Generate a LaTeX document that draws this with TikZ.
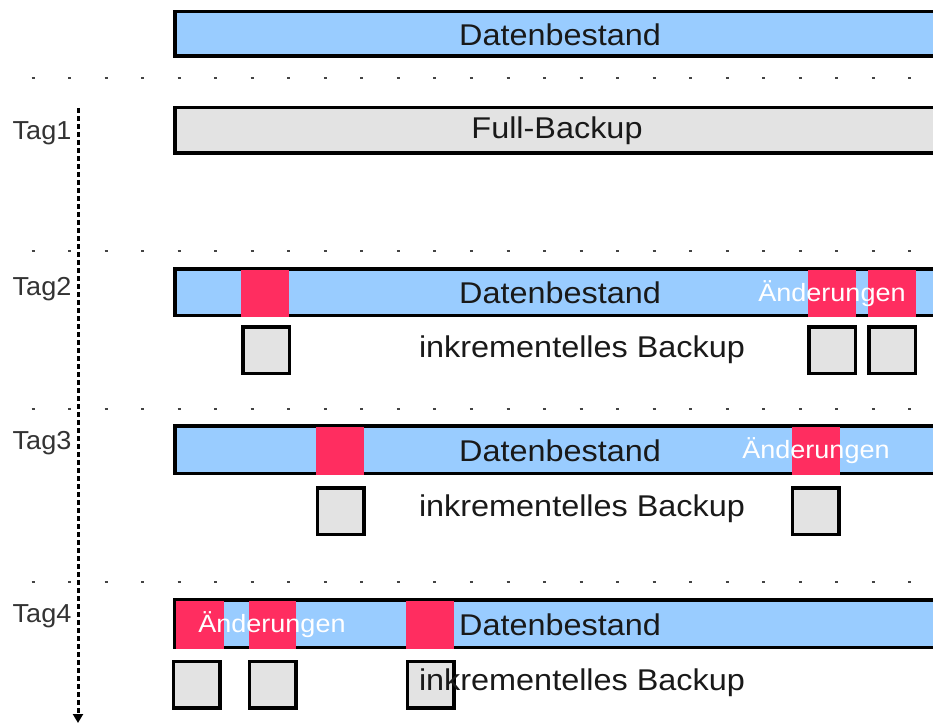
\documentclass[tikz,border=0pt]{standalone}
\usepackage{fontspec}
\setmainfont{Liberation Sans}
\newfontfamily\widefont[FakeStretch=1.08]{Liberation Sans}
\newfontfamily\tagfont[FakeStretch=1.04]{Liberation Sans}
\usetikzlibrary{arrows.meta}
\definecolor{dbblue}{HTML}{99CCFF}
\definecolor{chred}{HTML}{FF2D60}
\definecolor{bkgray}{HTML}{E3E3E3}
\definecolor{lblgray}{HTML}{333333}
\definecolor{dotgray}{HTML}{444444}
\tikzset{
  bar/.style={draw=black, line width=3.5pt, anchor=north west, inner sep=0pt, outer sep=0pt, minimum width=800pt},
  chg/.style={fill=chred, draw=none, anchor=north west, inner sep=0pt, outer sep=0pt},
  sq/.style={draw=black, line width=3.5pt, fill=bkgray, minimum size=46.5pt, inner sep=0pt},
  big/.style={font=\widefont\fontsize{30}{32}\selectfont, text=black!90, inner sep=0pt},
  chtext/.style={font=\widefont\fontsize{25}{27}\selectfont, text=white, inner sep=0pt},
  taglbl/.style={font=\tagfont\fontsize{26}{28}\selectfont, text=lblgray, inner sep=0pt},
  dotline/.style={draw=dotgray, line width=2pt, dash pattern=on 3pt off 33.54pt},
}
\begin{document}
\begin{tikzpicture}[x=1pt, y=-1pt]
\useasboundingbox (0,0) rectangle (933,727);
\clip (0,0) rectangle (933,727);

% dotted separators
\coordinate (d1a) at (31.5,78); \coordinate (d1b) at (925,78);
\coordinate (d2a) at (31.5,250.5); \coordinate (d2b) at (925,250.5);
\coordinate (d3a) at (31.5,409); \coordinate (d3b) at (925,409);
\coordinate (d4a) at (31.5,582); \coordinate (d4b) at (925,582);
\draw[dotline] (d1a) -- (d1b);
\draw[dotline] (d2a) -- (d2b);
\draw[dotline] (d3a) -- (d3b);
\draw[dotline] (d4a) -- (d4b);

% time axis
\coordinate (ax0) at (78,108);
\coordinate (ax1) at (78,723);
\draw[line width=3pt, dash pattern=on 5pt off 3pt, -{Triangle[width=10pt,length=9pt]}] (ax0) -- (ax1);

% labels
\node[taglbl] (t1) at (42,133) {Tag1};
\node[taglbl] (t2) at (42,289) {Tag2};
\node[taglbl] (t3) at (42,443) {Tag3};
\node[taglbl] (t4) at (42,616) {Tag4};

% top data bar
\node[bar, fill=dbblue, minimum height=44.5pt] (b0) at (174.75,11.75) {};
\node[big] (b0t) at (560,35) {Datenbestand};

% full backup
\node[bar, fill=bkgray, minimum height=45.5pt] (fb) at (174.75,107.75) {};
\node[big] (fbt) at (557,131) {Full-Backup};

% Tag2
\node[bar, fill=dbblue, minimum height=46.5pt] (b2) at (174.75,268.75) {};
\node[chg, minimum width=48pt, minimum height=47pt] (r21) at (241,270) {};
\node[chg, minimum width=48pt, minimum height=47pt] (r22) at (808,270) {};
\node[chg, minimum width=48pt, minimum height=47pt] (r23) at (868,270) {};
\node[big] (b2t) at (560,293) {Datenbestand};
\node[chtext] (c2) at (832,294) {Änderungen};
\node[sq] (s21) at (266,350) {};
\node[sq] (s22) at (832,350) {};
\node[sq] (s23) at (892,350) {};
\node[big] (i2) at (582,350) {inkrementelles Backup};

% Tag3
\node[bar, fill=dbblue, minimum height=47.5pt] (b3) at (174.75,425.75) {};
\node[chg, minimum width=48pt, minimum height=48pt] (r31) at (316,427) {};
\node[chg, minimum width=48pt, minimum height=48pt] (r32) at (792,427) {};
\node[big] (b3t) at (560,451) {Datenbestand};
\node[chtext] (c3) at (816,451) {Änderungen};
\node[sq] (s31) at (340.5,511) {};
\node[sq] (s32) at (815.5,511) {};
\node[big] (i3) at (582,509) {inkrementelles Backup};

% Tag4
\node[bar, fill=dbblue, minimum height=47.5pt] (b4) at (174.75,599.75) {};
\node[chg, minimum width=48pt, minimum height=48pt] (r41) at (176,601) {};
\node[chg, minimum width=47pt, minimum height=48pt] (r42) at (249,601) {};
\node[chg, minimum width=48pt, minimum height=48pt] (r43) at (406,601) {};
\node[big] (b4t) at (560,625) {Datenbestand};
\node[chtext] (c4) at (272,625) {Änderungen};
\node[sq] (s41) at (196.5,684.5) {};
\node[sq] (s42) at (272.5,684.5) {};
\node[sq] (s43) at (430.5,684.5) {};
\node[big] (i4) at (582,683) {inkrementelles Backup};
\end{tikzpicture}
\end{document}
